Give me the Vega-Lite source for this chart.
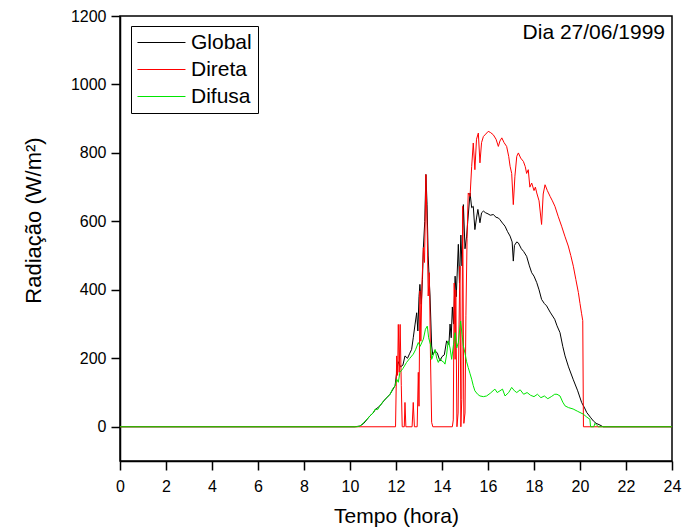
{
  "$schema": "https://vega.github.io/schema/vega-lite/v6.json",
  "width": 552,
  "height": 445,
  "autosize": {"type": "none"},
  "padding": {"left": 120, "top": 16, "right": 14, "bottom": 67},
  "background": "white",
  "config": {
    "font": "Liberation Sans",
    "view": {"stroke": "black", "strokeWidth": 1.5},
    "axis": {"grid": false}
  },
  "datasets": {
    "global": [
      {"t":0,"v":0},{"t":10.2,"v":0},{"t":10.43,"v":2},{"t":10.6,"v":10},{"t":10.87,"v":32},{"t":11.0,"v":40},{"t":11.1,"v":50},{"t":11.3,"v":61},{"t":11.5,"v":78},{"t":11.74,"v":95},{"t":11.96,"v":120},{"t":12.05,"v":170},{"t":12.1,"v":190},{"t":12.2,"v":175},{"t":12.3,"v":180},{"t":12.39,"v":207},{"t":12.5,"v":200},{"t":12.6,"v":215},{"t":12.68,"v":226},{"t":12.75,"v":260},{"t":12.83,"v":300},{"t":12.9,"v":333},{"t":12.95,"v":280},{"t":13.0,"v":380},{"t":13.04,"v":416},{"t":13.1,"v":358},{"t":13.15,"v":430},{"t":13.19,"v":523},{"t":13.25,"v":600},{"t":13.3,"v":737},{"t":13.35,"v":650},{"t":13.4,"v":499},{"t":13.45,"v":420},{"t":13.48,"v":382},{"t":13.55,"v":236},{"t":13.6,"v":210},{"t":13.7,"v":222},{"t":13.8,"v":215},{"t":13.91,"v":192},{"t":14.0,"v":205},{"t":14.1,"v":210},{"t":14.2,"v":251},{"t":14.3,"v":240},{"t":14.35,"v":300},{"t":14.4,"v":260},{"t":14.45,"v":350},{"t":14.5,"v":300},{"t":14.57,"v":440},{"t":14.62,"v":380},{"t":14.71,"v":533},{"t":14.76,"v":420},{"t":14.82,"v":560},{"t":14.87,"v":470},{"t":14.93,"v":649},{"t":15.0,"v":520},{"t":15.07,"v":557},{"t":15.12,"v":600},{"t":15.22,"v":683},{"t":15.29,"v":640},{"t":15.36,"v":644},{"t":15.43,"v":576},{"t":15.5,"v":610},{"t":15.56,"v":635},{"t":15.65,"v":596},{"t":15.72,"v":625},{"t":15.8,"v":630},{"t":15.9,"v":625},{"t":16.0,"v":622},{"t":16.1,"v":618},{"t":16.23,"v":620},{"t":16.35,"v":612},{"t":16.45,"v":610},{"t":16.52,"v":605},{"t":16.63,"v":595},{"t":16.74,"v":586},{"t":16.85,"v":570},{"t":16.96,"v":557},{"t":17.05,"v":540},{"t":17.1,"v":484},{"t":17.15,"v":530},{"t":17.25,"v":540},{"t":17.32,"v":537},{"t":17.45,"v":520},{"t":17.55,"v":512},{"t":17.68,"v":498},{"t":17.8,"v":470},{"t":17.9,"v":450},{"t":18.0,"v":440},{"t":18.12,"v":421},{"t":18.22,"v":400},{"t":18.33,"v":372},{"t":18.45,"v":360},{"t":18.55,"v":353},{"t":18.7,"v":335},{"t":18.9,"v":314},{"t":19.0,"v":295},{"t":19.13,"v":275},{"t":19.25,"v":235},{"t":19.35,"v":207},{"t":19.5,"v":175},{"t":19.7,"v":139},{"t":19.9,"v":105},{"t":20.07,"v":71},{"t":20.2,"v":55},{"t":20.29,"v":42},{"t":20.45,"v":28},{"t":20.58,"v":17},{"t":20.7,"v":10},{"t":20.87,"v":5},{"t":21.0,"v":0},{"t":24,"v":0}
    ],
    "direta": [
      {"t":0,"v":0},{"t":11.98,"v":0},{"t":12.03,"v":207},{"t":12.07,"v":150},{"t":12.1,"v":299},{"t":12.14,"v":159},{"t":12.18,"v":299},{"t":12.23,"v":120},{"t":12.27,"v":0},{"t":12.36,"v":0},{"t":12.39,"v":71},{"t":12.43,"v":0},{"t":12.7,"v":0},{"t":12.75,"v":71},{"t":12.8,"v":0},{"t":12.92,"v":0},{"t":12.97,"v":159},{"t":13.0,"v":60},{"t":13.04,"v":397},{"t":13.08,"v":250},{"t":13.13,"v":420},{"t":13.19,"v":523},{"t":13.24,"v":480},{"t":13.3,"v":737},{"t":13.36,"v":560},{"t":13.4,"v":382},{"t":13.45,"v":450},{"t":13.5,"v":200},{"t":13.55,"v":13},{"t":13.6,"v":0},{"t":14.45,"v":0},{"t":14.49,"v":20},{"t":14.53,"v":420},{"t":14.57,"v":197},{"t":14.6,"v":400},{"t":14.65,"v":0},{"t":14.7,"v":40},{"t":14.74,"v":300},{"t":14.78,"v":469},{"t":14.82,"v":0},{"t":14.86,"v":80},{"t":14.9,"v":644},{"t":14.95,"v":10},{"t":15.0,"v":40},{"t":15.04,"v":324},{"t":15.09,"v":550},{"t":15.14,"v":683},{"t":15.22,"v":673},{"t":15.29,"v":760},{"t":15.36,"v":829},{"t":15.43,"v":751},{"t":15.5,"v":840},{"t":15.58,"v":858},{"t":15.65,"v":771},{"t":15.72,"v":830},{"t":15.8,"v":848},{"t":15.9,"v":855},{"t":16.01,"v":863},{"t":16.1,"v":860},{"t":16.23,"v":853},{"t":16.35,"v":840},{"t":16.45,"v":819},{"t":16.52,"v":835},{"t":16.6,"v":844},{"t":16.7,"v":830},{"t":16.81,"v":819},{"t":16.9,"v":790},{"t":16.96,"v":761},{"t":17.03,"v":740},{"t":17.1,"v":649},{"t":17.17,"v":732},{"t":17.25,"v":790},{"t":17.32,"v":800},{"t":17.42,"v":785},{"t":17.54,"v":775},{"t":17.62,"v":760},{"t":17.68,"v":740},{"t":17.75,"v":751},{"t":17.82,"v":700},{"t":17.9,"v":712},{"t":18.0,"v":690},{"t":18.06,"v":700},{"t":18.12,"v":683},{"t":18.22,"v":660},{"t":18.33,"v":591},{"t":18.4,"v":680},{"t":18.48,"v":707},{"t":18.58,"v":690},{"t":18.7,"v":673},{"t":18.8,"v":660},{"t":18.91,"v":644},{"t":19.05,"v":615},{"t":19.2,"v":586},{"t":19.35,"v":555},{"t":19.49,"v":528},{"t":19.6,"v":500},{"t":19.71,"v":469},{"t":19.82,"v":430},{"t":19.93,"v":392},{"t":20.0,"v":360},{"t":20.07,"v":330},{"t":20.12,"v":310},{"t":20.15,"v":0},{"t":24,"v":0}
    ],
    "difusa": [
      {"t":0,"v":0},{"t":10.3,"v":0},{"t":10.43,"v":2},{"t":10.6,"v":12},{"t":10.87,"v":32},{"t":11.0,"v":40},{"t":11.1,"v":52},{"t":11.2,"v":50},{"t":11.3,"v":61},{"t":11.45,"v":75},{"t":11.6,"v":85},{"t":11.74,"v":95},{"t":11.85,"v":110},{"t":11.96,"v":120},{"t":12.03,"v":139},{"t":12.1,"v":130},{"t":12.17,"v":159},{"t":12.3,"v":170},{"t":12.46,"v":188},{"t":12.6,"v":200},{"t":12.75,"v":212},{"t":12.85,"v":225},{"t":12.97,"v":246},{"t":13.05,"v":235},{"t":13.19,"v":256},{"t":13.28,"v":285},{"t":13.36,"v":294},{"t":13.42,"v":260},{"t":13.5,"v":240},{"t":13.55,"v":197},{"t":13.62,"v":210},{"t":13.7,"v":226},{"t":13.77,"v":200},{"t":13.84,"v":188},{"t":13.92,"v":200},{"t":13.99,"v":192},{"t":14.06,"v":190},{"t":14.13,"v":183},{"t":14.2,"v":210},{"t":14.27,"v":251},{"t":14.35,"v":230},{"t":14.42,"v":197},{"t":14.5,"v":240},{"t":14.57,"v":275},{"t":14.64,"v":230},{"t":14.71,"v":246},{"t":14.76,"v":280},{"t":14.81,"v":309},{"t":14.87,"v":270},{"t":14.93,"v":236},{"t":15.0,"v":215},{"t":15.07,"v":190},{"t":15.14,"v":173},{"t":15.22,"v":155},{"t":15.29,"v":139},{"t":15.36,"v":120},{"t":15.43,"v":105},{"t":15.55,"v":95},{"t":15.65,"v":90},{"t":15.8,"v":88},{"t":15.94,"v":90},{"t":16.1,"v":98},{"t":16.3,"v":110},{"t":16.4,"v":100},{"t":16.52,"v":105},{"t":16.63,"v":110},{"t":16.74,"v":90},{"t":16.9,"v":100},{"t":17.03,"v":115},{"t":17.15,"v":105},{"t":17.25,"v":100},{"t":17.4,"v":108},{"t":17.55,"v":95},{"t":17.7,"v":100},{"t":17.85,"v":92},{"t":18.0,"v":88},{"t":18.15,"v":95},{"t":18.3,"v":85},{"t":18.45,"v":90},{"t":18.6,"v":82},{"t":18.75,"v":88},{"t":18.9,"v":95},{"t":19.0,"v":95},{"t":19.13,"v":90},{"t":19.25,"v":72},{"t":19.35,"v":61},{"t":19.5,"v":56},{"t":19.7,"v":52},{"t":19.9,"v":45},{"t":20.14,"v":37},{"t":20.3,"v":28},{"t":20.43,"v":22},{"t":20.46,"v":0},{"t":20.6,"v":0},{"t":20.65,"v":10},{"t":20.75,"v":3},{"t":20.8,"v":0},{"t":24,"v":0}
    ]
  },
  "layer": [
    {
      "data": {"name": "global"},
      "mark": {"type": "line", "strokeWidth": 1, "interpolate": "linear"},
      "encoding": {
        "x": {
          "field": "t", "type": "quantitative",
          "scale": {"domain": [0, 24], "nice": false, "zero": false},
          "axis": {
            "values": [0,1,2,3,4,5,6,7,8,9,10,11,12,13,14,15,16,17,18,19,20,21,22,23,24],
            "labelExpr": "datum.value % 2 === 0 ? datum.label : ''",
            "tickSize": {"condition": {"test": "datum.value % 2 === 0", "value": 9}, "value": 5},
            "tickColor": "black", "tickWidth": 1.5,
            "domainColor": "black", "domainWidth": 1.5,
            "labelFont": "Liberation Sans", "labelFontSize": 16, "labelColor": "black",
            "labelPadding": 8, "labelFlush": false, "labelOverlap": false,
            "title": "Tempo (hora)", "titleFont": "Liberation Sans", "titleFontSize": 21,
            "titleFontWeight": "normal", "titleColor": "black",
            "titleX": 276, "titleY": 61, "titleBaseline": "alphabetic", "titleAlign": "center"
          }
        },
        "y": {
          "field": "v", "type": "quantitative",
          "scale": {"domain": [-100, 1200], "nice": false, "zero": false},
          "axis": {
            "values": [0,200,400,600,800,1000,1200],
            "format": "d",
            "tickSize": 9,
            "tickColor": "black", "tickWidth": 1.5,
            "domainColor": "black", "domainWidth": 1.5,
            "labelFont": "Liberation Sans", "labelFontSize": 16, "labelColor": "black",
            "labelPadding": 5, "labelFlush": false, "labelOverlap": false,
            "title": "Radiação (W/m²)", "titleFont": "Liberation Sans", "titleFontSize": 22,
            "titleFontWeight": "normal", "titleColor": "black",
            "titleX": -80, "titleY": 204, "titleAngle": -90, "titleBaseline": "alphabetic", "titleAlign": "center"
          }
        },
        "color": {
          "datum": "Global", "type": "nominal",
          "scale": {"domain": ["Global", "Direta", "Difusa"], "range": ["#000000", "#ff0000", "#00e600"]},
          "legend": {
            "orient": "none", "legendX": 11, "legendY": 10, "title": null,
            "symbolType": "M-1.67,0H6.33", "symbolSize": 144, "symbolStrokeWidth": 1,
            "labelFont": "Liberation Sans", "labelFontSize": 21, "labelColor": "black",
            "labelOffset": 33, "padding": 6, "rowPadding": 5,
            "strokeColor": "black", "fillColor": "white"
          }
        }
      }
    },
    {
      "data": {"name": "direta"},
      "mark": {"type": "line", "strokeWidth": 1, "interpolate": "linear"},
      "encoding": {
        "x": {"field": "t", "type": "quantitative"},
        "y": {"field": "v", "type": "quantitative"},
        "color": {"datum": "Direta", "type": "nominal"}
      }
    },
    {
      "data": {"name": "difusa"},
      "mark": {"type": "line", "strokeWidth": 1, "interpolate": "linear"},
      "encoding": {
        "x": {"field": "t", "type": "quantitative"},
        "y": {"field": "v", "type": "quantitative"},
        "color": {"datum": "Difusa", "type": "nominal"}
      }
    },
    {
      "data": {"values": [{"label": "Dia 27/06/1999"}]},
      "mark": {"type": "text", "align": "right", "baseline": "alphabetic", "dx": -7, "dy": 23, "fontSize": 21, "font": "Liberation Sans", "color": "black"},
      "encoding": {
        "x": {"datum": 24, "type": "quantitative"},
        "y": {"datum": 1200, "type": "quantitative"},
        "text": {"field": "label"}
      }
    }
  ]
}
